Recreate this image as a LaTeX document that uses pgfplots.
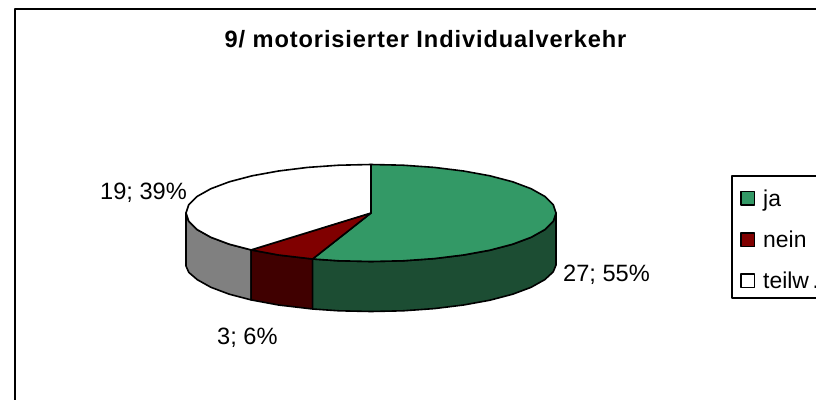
\documentclass[border=0pt]{standalone}
\usepackage{pgfplots}
\pgfplotsset{compat=1.18}
\usepackage{fontspec}
\setmainfont{Liberation Sans}
\newfontface\titlefont[LetterSpace=3.8]{Liberation Sans Bold}
\definecolor{jaG}{HTML}{339966}
\definecolor{jaD}{HTML}{1C4D33}
\definecolor{neinR}{HTML}{800000}
\definecolor{neinD}{HTML}{400000}
\definecolor{teilD}{HTML}{808080}
\begin{document}
\begin{tikzpicture}[x=1bp,y=1bp]
\path[use as bounding box] (0,0) rectangle (816bp,400bp);
\clip (0,0) rectangle (816bp,400bp);
\begin{axis}[
  at={(0,0)},anchor=south west,
  scale only axis,width=816bp,height=400bp,
  xmin=0,xmax=816,ymin=0,ymax=400,y dir=reverse,
  hide axis,clip=false,
  every axis plot/.append style={line width=1.6bp,line join=round,black},
]
% chart frame
\addplot[black,line width=1.2bp] coordinates {(15,420)(15,9)(830,9)};
% walls
\addplot[fill=teilD] coordinates {(251.1,249.9)(229.3,244.2)(210.8,237.25)(197.2,229.6)(188.8,221.4)(186,213)(186,266)(188.8,272.4)(197.2,279.6)(210.8,287.25)(229.3,294.2)(251.1,299.9)} --cycle;
\addplot[fill=neinD] coordinates {(312.6,259)(278.5,255)(251.1,249.9)(251.1,299.9)(278.5,305)(312.6,309)} --cycle;
\addplot[fill=jaD] coordinates {(556,213)(553.2,221.4)(544.8,229.6)(531.2,237.25)(512.7,244.2)(489.9,250.2)(463.5,255)(434.3,258.6)(403.1,260.8)(371,261.5)(338.9,260.8)(312.6,259)(312.6,309)(338.9,310.8)(371,311.5)(403.1,310.8)(434.3,308.6)(463.5,305)(489.9,300.2)(512.7,294.2)(531.2,287.25)(544.8,279.6)(553.2,271.9)(556,265)} --cycle;
% top slices
\addplot[fill=jaG] coordinates {(371,213)(371,164.5)(403.1,165.2)(434.3,167.4)(463.5,171)(489.9,175.8)(512.7,181.8)(531.2,188.75)(544.8,196.4)(553.2,204.6)(556,213)(553.2,221.4)(544.8,229.6)(531.2,237.25)(512.7,244.2)(489.9,250.2)(463.5,255)(434.3,258.6)(403.1,260.8)(371,261.5)(338.9,260.8)(312.6,259)} --cycle;
\addplot[fill=neinR] coordinates {(371,213)(312.6,259)(278.5,255)(251.1,249.9)} --cycle;
\addplot[fill=white] coordinates {(371,213)(251.1,249.9)(229.3,244.2)(210.8,237.25)(197.2,229.6)(188.8,221.4)(186,213)(188.8,204.6)(197.2,196.4)(210.8,188.75)(229.3,181.8)(252.1,175.8)(278.5,171)(307.7,167.4)(338.9,165.2)(371,164.5)} --cycle;
% legend
\addplot[black,line width=1.2bp,fill=white] coordinates {(732,298)(732,176)(830,176)(830,298)} --cycle;
\addplot[fill=jaG] coordinates {(741,191.5)(754.5,191.5)(754.5,205)(741,205)} --cycle;
\addplot[fill=neinR] coordinates {(741,233)(754.5,233)(754.5,246.5)(741,246.5)} --cycle;
\addplot[fill=white] coordinates {(741,274)(754.5,274)(754.5,287.5)(741,287.5)} --cycle;
\node[anchor=base west,inner sep=0,font=\fontsize{23}{23}\selectfont] at (axis cs:763,206) {ja};
\node[anchor=base west,inner sep=0,font=\fontsize{23}{23}\selectfont] at (axis cs:763,247.5) {nein};
\node[anchor=base west,inner sep=0,font=\fontsize{23}{23}\selectfont] at (axis cs:763,288.5) {teilw\kern3.5bp.};
% labels
\node[anchor=base west,inner sep=0,font=\fontsize{23.7}{24}\selectfont] at (axis cs:563,281) {27; 55\%};
\node[anchor=base west,inner sep=0,font=\fontsize{23.7}{24}\selectfont] at (axis cs:217,344) {3; 6\%};
\node[anchor=base west,inner sep=0,font=\fontsize{23.7}{24}\selectfont] at (axis cs:100,199) {19; 39\%};
\node[anchor=base,inner sep=0,font=\titlefont\fontsize{23.7}{24}\selectfont] at (axis cs:425.5,47) {9/ motorisierter Individualverkehr};
\end{axis}
\end{tikzpicture}
\end{document}
